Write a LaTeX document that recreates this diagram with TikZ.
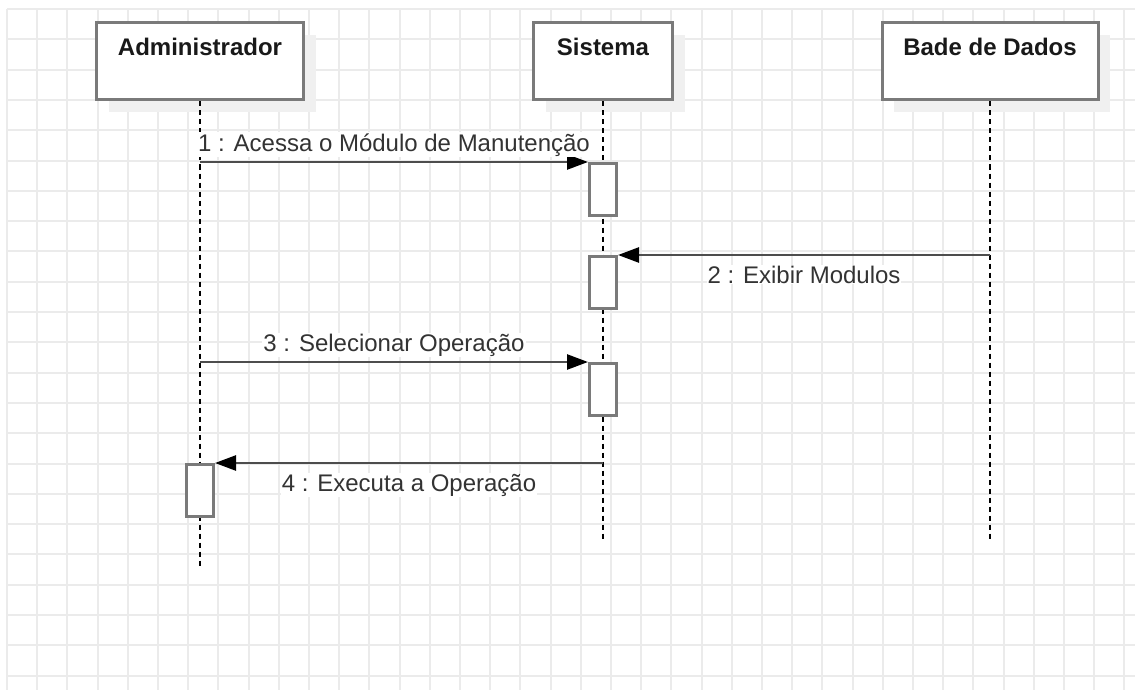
\documentclass[tikz,border=0pt]{standalone}
\usepackage{fontspec}
\setmainfont{Liberation Sans}
\usetikzlibrary{arrows.meta,shadows}

\definecolor{gridgray}{HTML}{EBEBEB}
\definecolor{boxgray}{HTML}{7A7A7A}
\definecolor{msggray}{HTML}{4D4D4D}
\definecolor{textgray}{HTML}{333333}

\begin{document}
\begin{tikzpicture}[x=1pt, y=-1pt,
		gridline/.style={draw=gridgray, line width=2pt},
		actor/.style={draw=boxgray, line width=3pt, fill=white, inner xsep=0pt, inner ysep=0pt,
			text height=33pt, text depth=44pt, anchor=base, text=black!90,
			font=\fontsize{24}{28}\selectfont\bfseries,
			drop shadow={shadow xshift=12pt, shadow yshift=-12pt, fill=black!6, opacity=1}},
		lifeline/.style={line width=1.6pt, dash pattern=on 5pt off 4pt},
		activation/.style={draw=boxgray, line width=3pt, fill=white, anchor=north,
			minimum width=27pt, minimum height=52pt, inner sep=0pt},
		msg/.style={draw=msggray, line width=2.5pt, -{Triangle[length=21pt, width=15pt, color=black]}},
		msglabel/.style={font=\fontsize{24}{28}\selectfont, text=textgray, fill=white, inner sep=1pt, anchor=base}]
		\useasboundingbox (0,0) rectangle (1135,690);
		
		\foreach \i in {0,...,37}
			\draw[gridline] ({7+30.2*\i},9) -- ({7+30.2*\i},690);
		\foreach \j in {0,...,22}
			\draw[gridline] (7,{9+30.3*\j}) -- (1135,{9+30.3*\j});
		
		\node[actor, minimum width=207pt] (adm) at (200,56) {Administrador};
		\node[actor, minimum width=139pt] (sis) at (603,56) {Sistema};
		\node[actor, minimum width=216pt] (bd) at (990,56) {Bade de Dados};
		
		\coordinate (admEnd) at (adm.south |- 0,568);
		\coordinate (sisEnd) at (sis.south |- 0,540);
		\coordinate (bdEnd) at (bd.south |- 0,540);
		
		\draw[lifeline] (adm.south) -- (admEnd);
		\draw[lifeline] (sis.south) -- (sisEnd);
		\draw[lifeline] (bd.south) -- (bdEnd);
		
		\node[activation] (s1) at (sis.south |- 0,162) {};
		\node[activation] (s2) at (sis.south |- 0,255) {};
		\node[activation] (s3) at (sis.south |- 0,362) {};
		\node[activation] (a1) at (adm.south |- 0,463) {};
		
		\draw[msg] (adm.south |- s1.north west) -- node[msglabel, yshift=11pt] {1 : Acessa o Módulo de Manutenção} (s1.north west);
		\draw[msg] (bd.south |- s2.north east) -- node[msglabel, yshift=-28pt] {2 : Exibir Modulos} (s2.north east);
		\draw[msg] (adm.south |- s3.north west) -- node[msglabel, yshift=11pt] {3 : Selecionar Operação} (s3.north west);
		\draw[msg] (sis.south |- a1.north east) -- node[msglabel, yshift=-28pt] {4 : Executa a Operação} (a1.north east); %back to admin
	\end{tikzpicture}
\end{document}
